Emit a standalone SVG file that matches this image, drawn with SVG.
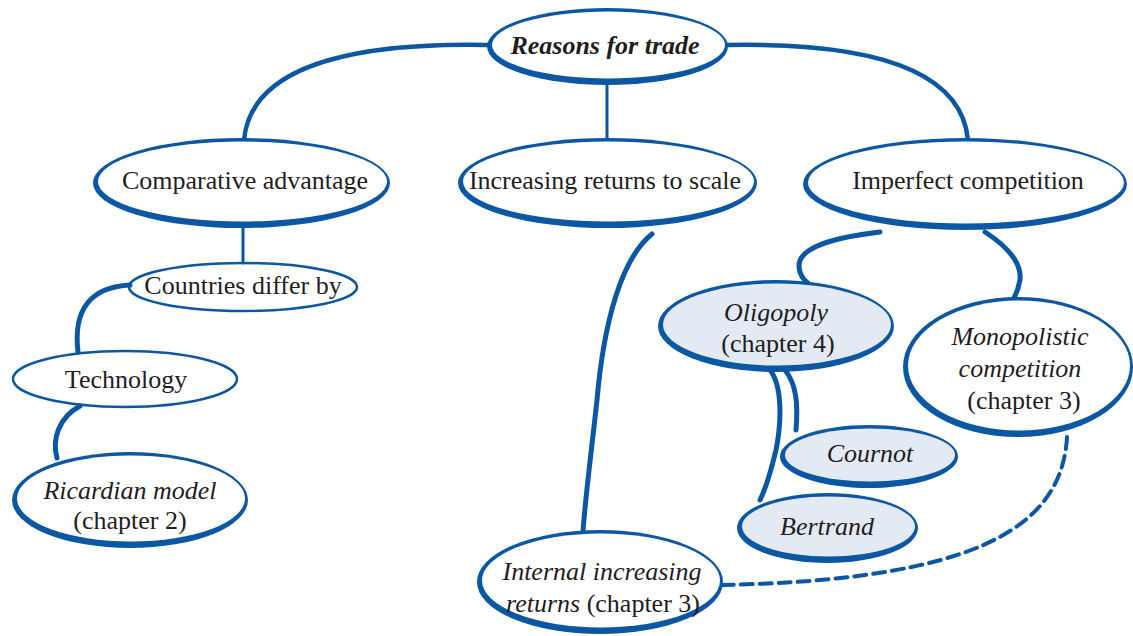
<svg xmlns="http://www.w3.org/2000/svg" width="1133" height="636" viewBox="0 0 1133 636">
<style>
.c{fill:none;stroke:#0b57a4;stroke-linecap:round}
.o{fill:#0b57a4}
.w{fill:#ffffff}
.l{fill:#e3eaf3}
.t{fill:none;stroke:#0b57a4;stroke-width:2.5}
text{font-family:"Liberation Serif","Times New Roman",serif;font-size:26px;fill:#1f1d1e;text-anchor:middle}
.i{font-style:italic}
.b{font-weight:bold;font-style:italic}
</style>
<rect width="1133" height="636" fill="#ffffff"/>
<g id="connectors">
<path class="c" stroke-width="4.5" d="M 488 45 C 330 42 250 75 244 140"/>
<path class="c" stroke-width="3" d="M 607 84 L 607 140"/>
<path class="c" stroke-width="4.5" d="M 727 45 C 885 42 962 75 968 140"/>
<path class="c" stroke-width="3" d="M 243 228 L 243 263"/>
<path class="c" stroke-width="5" d="M 130 285 C 90 287 73 310 78 352"/>
<path class="c" stroke-width="5" d="M 80 406 C 58 418 52 440 57 458"/>
<path class="c" stroke-width="5" d="M 652 234 C 622 258 604 320 597 400 C 591 455 585 500 583 532"/>
<path class="c" stroke-width="5" d="M 880 232 C 830 238 800 248 799 265 C 799 278 808 284 815 288"/>
<path class="c" stroke-width="5" d="M 985 232 C 1005 245 1022 262 1020 280 C 1018 292 1015 296 1012 302"/>
<path class="c" stroke-width="5" d="M 785 370 C 797 385 798 405 796 430"/>
<path class="c" stroke-width="5" d="M 770 370 C 782 385 782 420 776 450 C 770 475 765 490 760 500"/>
<path class="c" stroke-width="4" stroke-dasharray="12 7" stroke-linecap="butt" d="M 1067 437 C 1062 530 970 580 722 585"/>
</g>
<g id="reasons">
<ellipse class="o" cx="607.5" cy="46.5" rx="120.5" ry="38.5"/>
<ellipse class="w" cx="608.5" cy="45" rx="116.5" ry="33.5"/>
<text class="b" x="605" y="54">Reasons for trade</text>
</g>
<g id="comparative">
<ellipse class="o" cx="241.5" cy="183" rx="148.5" ry="45"/>
<ellipse class="w" cx="242.5" cy="181.5" rx="144.5" ry="40"/>
<text x="245" y="189">Comparative advantage</text>
</g>
<g id="increasing">
<ellipse class="o" cx="607.5" cy="183" rx="149.5" ry="45"/>
<ellipse class="w" cx="608.5" cy="181.5" rx="145.5" ry="40"/>
<text x="605" y="189">Increasing returns to scale</text>
</g>
<g id="imperfect">
<ellipse class="o" cx="965" cy="184" rx="162" ry="46"/>
<ellipse class="w" cx="966" cy="182.5" rx="158" ry="41"/>
<text x="968" y="189">Imperfect competition</text>
</g>
<g id="countries">
<ellipse class="t" cx="243" cy="287" rx="114" ry="24"/>
<text x="243" y="294">Countries differ by</text>
</g>
<g id="technology">
<ellipse class="t" cx="125" cy="379" rx="112" ry="28"/>
<text x="126" y="388">Technology</text>
</g>
<g id="ricardian">
<ellipse class="o" cx="130" cy="500" rx="118" ry="48"/>
<ellipse class="w" cx="131" cy="498.5" rx="114" ry="43"/>
<text class="i" x="130" y="499">Ricardian model</text>
<text x="130" y="529">(chapter 2)</text>
</g>
<g id="oligopoly">
<ellipse class="o" cx="776" cy="326" rx="118" ry="46"/>
<ellipse class="l" cx="777" cy="324.5" rx="114" ry="41"/>
<text class="i" x="776" y="321">Oligopoly</text>
<text x="778" y="352">(chapter 4)</text>
</g>
<g id="monopolistic">
<ellipse class="o" cx="1018" cy="367" rx="115" ry="70"/>
<ellipse class="w" cx="1019" cy="365.5" rx="111" ry="65"/>
<text class="i" x="1020" y="345">Monopolistic</text>
<text class="i" x="1020" y="377">competition</text>
<text x="1024" y="409">(chapter 3)</text>
</g>
<g id="cournot">
<ellipse class="o" cx="869" cy="456.5" rx="89" ry="31.5"/>
<ellipse class="l" cx="870" cy="455" rx="85" ry="26.5"/>
<text class="i" x="870" y="462">Cournot</text>
</g>
<g id="bertrand">
<ellipse class="o" cx="827.5" cy="528" rx="90.5" ry="35"/>
<ellipse class="l" cx="828.5" cy="526.5" rx="86.5" ry="30"/>
<text class="i" x="827" y="535">Bertrand</text>
</g>
<g id="internal">
<ellipse class="o" cx="600" cy="582" rx="123" ry="52"/>
<ellipse class="w" cx="601" cy="580.5" rx="119" ry="47"/>
<text class="i" x="602" y="580">Internal increasing</text>
<text x="603" y="612"><tspan class="i">returns</tspan> (chapter 3)</text>
</g>
</svg>
